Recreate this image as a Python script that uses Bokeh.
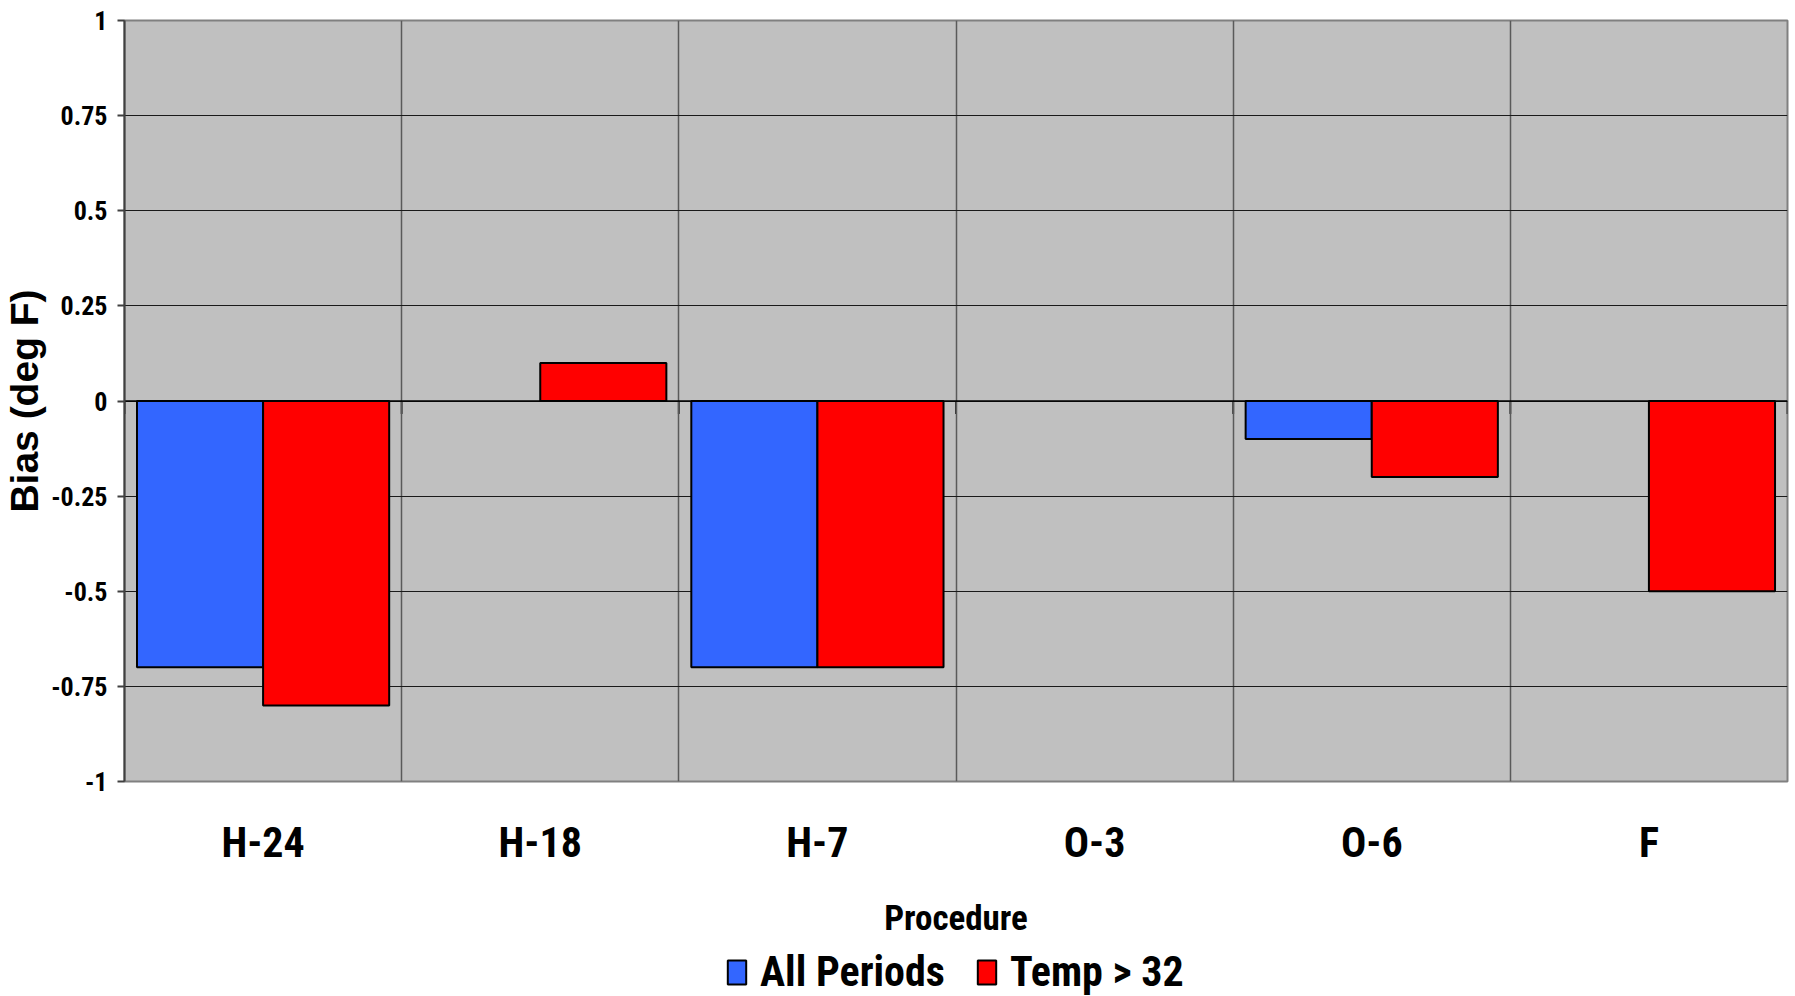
from bokeh.plotting import figure
from bokeh.layouts import column
from bokeh.models import (FactorRange, Range1d, FixedTicker, Span, Legend,
                          LegendItem, ColumnDataSource)
from bokeh.transform import dodge
from bokeh.embed import file_html
from bokeh.resources import INLINE

# Procedure categories and bias values (deg F) for each series
procedures = ["H-24", "H-18", "H-7", "O-3", "O-6", "F"]
all_periods = [-0.7, 0.0, -0.7, 0.0, -0.1, 0.0]
temp_above_32 = [-0.8, 0.1, -0.7, 0.0, -0.2, -0.5]

y_ticks = [-1, -0.75, -0.5, -0.25, 0, 0.25, 0.5, 0.75, 1]
y_tick_labels = ["-1", "-0.75", "-0.5", "-0.25", "0", "0.25", "0.5", "0.75", "1"]

series_names = ["All Periods", "Temp > 32"]

BLUE = "#3366FF"
RED = "#FF0000"
NARROW = "Roboto Condensed, Roboto, sans-serif"

source = ColumnDataSource(dict(
    proc=procedures,
    all_periods=all_periods,
    temp=temp_above_32,
    all_alpha=[0.0 if v == 0 else 1.0 for v in all_periods],
    temp_alpha=[0.0 if v == 0 else 1.0 for v in temp_above_32],
))

p = figure(
    x_range=FactorRange(*procedures, range_padding=0),
    y_range=Range1d(-1, 1),
    width=1795, height=941,
    output_backend="svg", toolbar_location=None,
    min_border_left=124, min_border_right=8, min_border_top=20,
    min_border_bottom=160,
    background_fill_color="#C0C0C0",
    border_fill_color="white",
)
p.outline_line_color = "#808080"
p.outline_line_width = 2

bar_w = 0.455
bar_style = dict(width=bar_w, bottom=0, line_color="black", line_width=2)
r_all = p.vbar(x=dodge("proc", -bar_w / 2, range=p.x_range), top="all_periods",
               source=source, fill_color=BLUE, line_alpha="all_alpha",
               fill_alpha="all_alpha", **bar_style)
r_temp = p.vbar(x=dodge("proc", bar_w / 2, range=p.x_range), top="temp",
                source=source, fill_color=RED, line_alpha="temp_alpha",
                fill_alpha="temp_alpha", **bar_style)

# grid: horizontal lines on the inner ticks, vertical lines between categories
p.ygrid.ticker = FixedTicker(ticks=[t for t in y_ticks if abs(t) < 1])
p.ygrid.grid_line_color = "#1a1a1a"
p.ygrid.grid_line_width = 1
p.xgrid.ticker = FixedTicker(ticks=list(range(1, len(procedures))))
p.xgrid.grid_line_color = "#5a5a5a"
p.xgrid.grid_line_width = 1.5

# category axis crossing at zero
p.add_layout(Span(location=0, dimension="width", line_color="black",
                  line_width=1.5, level="underlay"))
bounds = list(range(0, len(procedures) + 1))
p.segment(x0=bounds, y0=[0] * len(bounds), x1=bounds,
          y1=[-0.034] * len(bounds), line_color="#333333", line_width=2,
          level="underlay")

# y axis
p.yaxis.ticker = FixedTicker(ticks=y_ticks)
p.yaxis.major_label_overrides = {t: s for t, s in zip(y_ticks, y_tick_labels)}
p.yaxis.minor_tick_line_color = None
p.yaxis.major_tick_in = 0
p.yaxis.major_tick_out = 7
p.yaxis.major_tick_line_color = "#404040"
p.yaxis.major_tick_line_width = 2
p.yaxis.axis_line_color = "#404040"
p.yaxis.axis_line_width = 2
p.yaxis.major_label_standoff = 10
p.yaxis.major_label_text_font = NARROW
p.yaxis.major_label_text_font_style = "bold"
p.yaxis.major_label_text_font_size = "26px"
p.yaxis.major_label_text_color = "black"
p.yaxis.axis_label = "Bias (deg F)"
p.yaxis.axis_label_text_font = "Liberation Sans"
p.yaxis.axis_label_text_font_style = "bold"
p.yaxis.axis_label_text_font_size = "39px"
p.yaxis.axis_label_text_color = "black"
p.yaxis.axis_label_standoff = 2

# x axis
p.xaxis.axis_line_color = None
p.xaxis.major_tick_line_color = None
p.xaxis.minor_tick_line_color = None
p.xaxis.major_tick_out = 0
p.xaxis.major_label_standoff = 36
p.xaxis.major_label_text_font = NARROW
p.xaxis.major_label_text_font_style = "bold"
p.xaxis.major_label_text_font_size = "42px"
p.xaxis.major_label_text_color = "black"
p.xaxis.axis_label = "Procedure"
p.xaxis.axis_label_text_font = NARROW
p.xaxis.axis_label_text_font_style = "bold"
p.xaxis.axis_label_text_font_size = "35px"
p.xaxis.axis_label_text_color = "black"
p.xaxis.axis_label_standoff = 28

# legend strip under the chart; its key renderers are hidden, so only
# the legend swatches and labels are drawn
leg = figure(x_range=FactorRange(*procedures), y_range=Range1d(-1, 1),
             width=1795, height=55, output_backend="svg", toolbar_location=None,
             x_axis_location=None, y_axis_location=None,
             min_border=0, outline_line_color=None,
             background_fill_color="white", border_fill_color="white")
leg.grid.visible = False
key_all = leg.vbar(x="proc", top="all_periods", bottom=0, width=0.5,
                   source=source, fill_color=BLUE, line_color="black",
                   line_width=2, visible=False)
key_temp = leg.vbar(x="proc", top="temp", bottom=0, width=0.5,
                    source=source, fill_color=RED, line_color="black",
                    line_width=2, visible=False)
legend = Legend(
    items=[LegendItem(label=series_names[0], renderers=[key_all]),
           LegendItem(label=series_names[1], renderers=[key_temp])],
    orientation="horizontal", location=(601, 0),
    glyph_width=23, glyph_height=30, label_standoff=12, spacing=30,
    padding=0, margin=0, border_line_color=None, background_fill_alpha=0,
    label_text_font=NARROW, label_text_font_style="bold",
    label_text_font_size="42px", label_text_color="black",
)
leg.add_layout(legend, "center")

layout = column(p, leg, spacing=0)
open("out.html", "w").write(file_html(layout, INLINE))
